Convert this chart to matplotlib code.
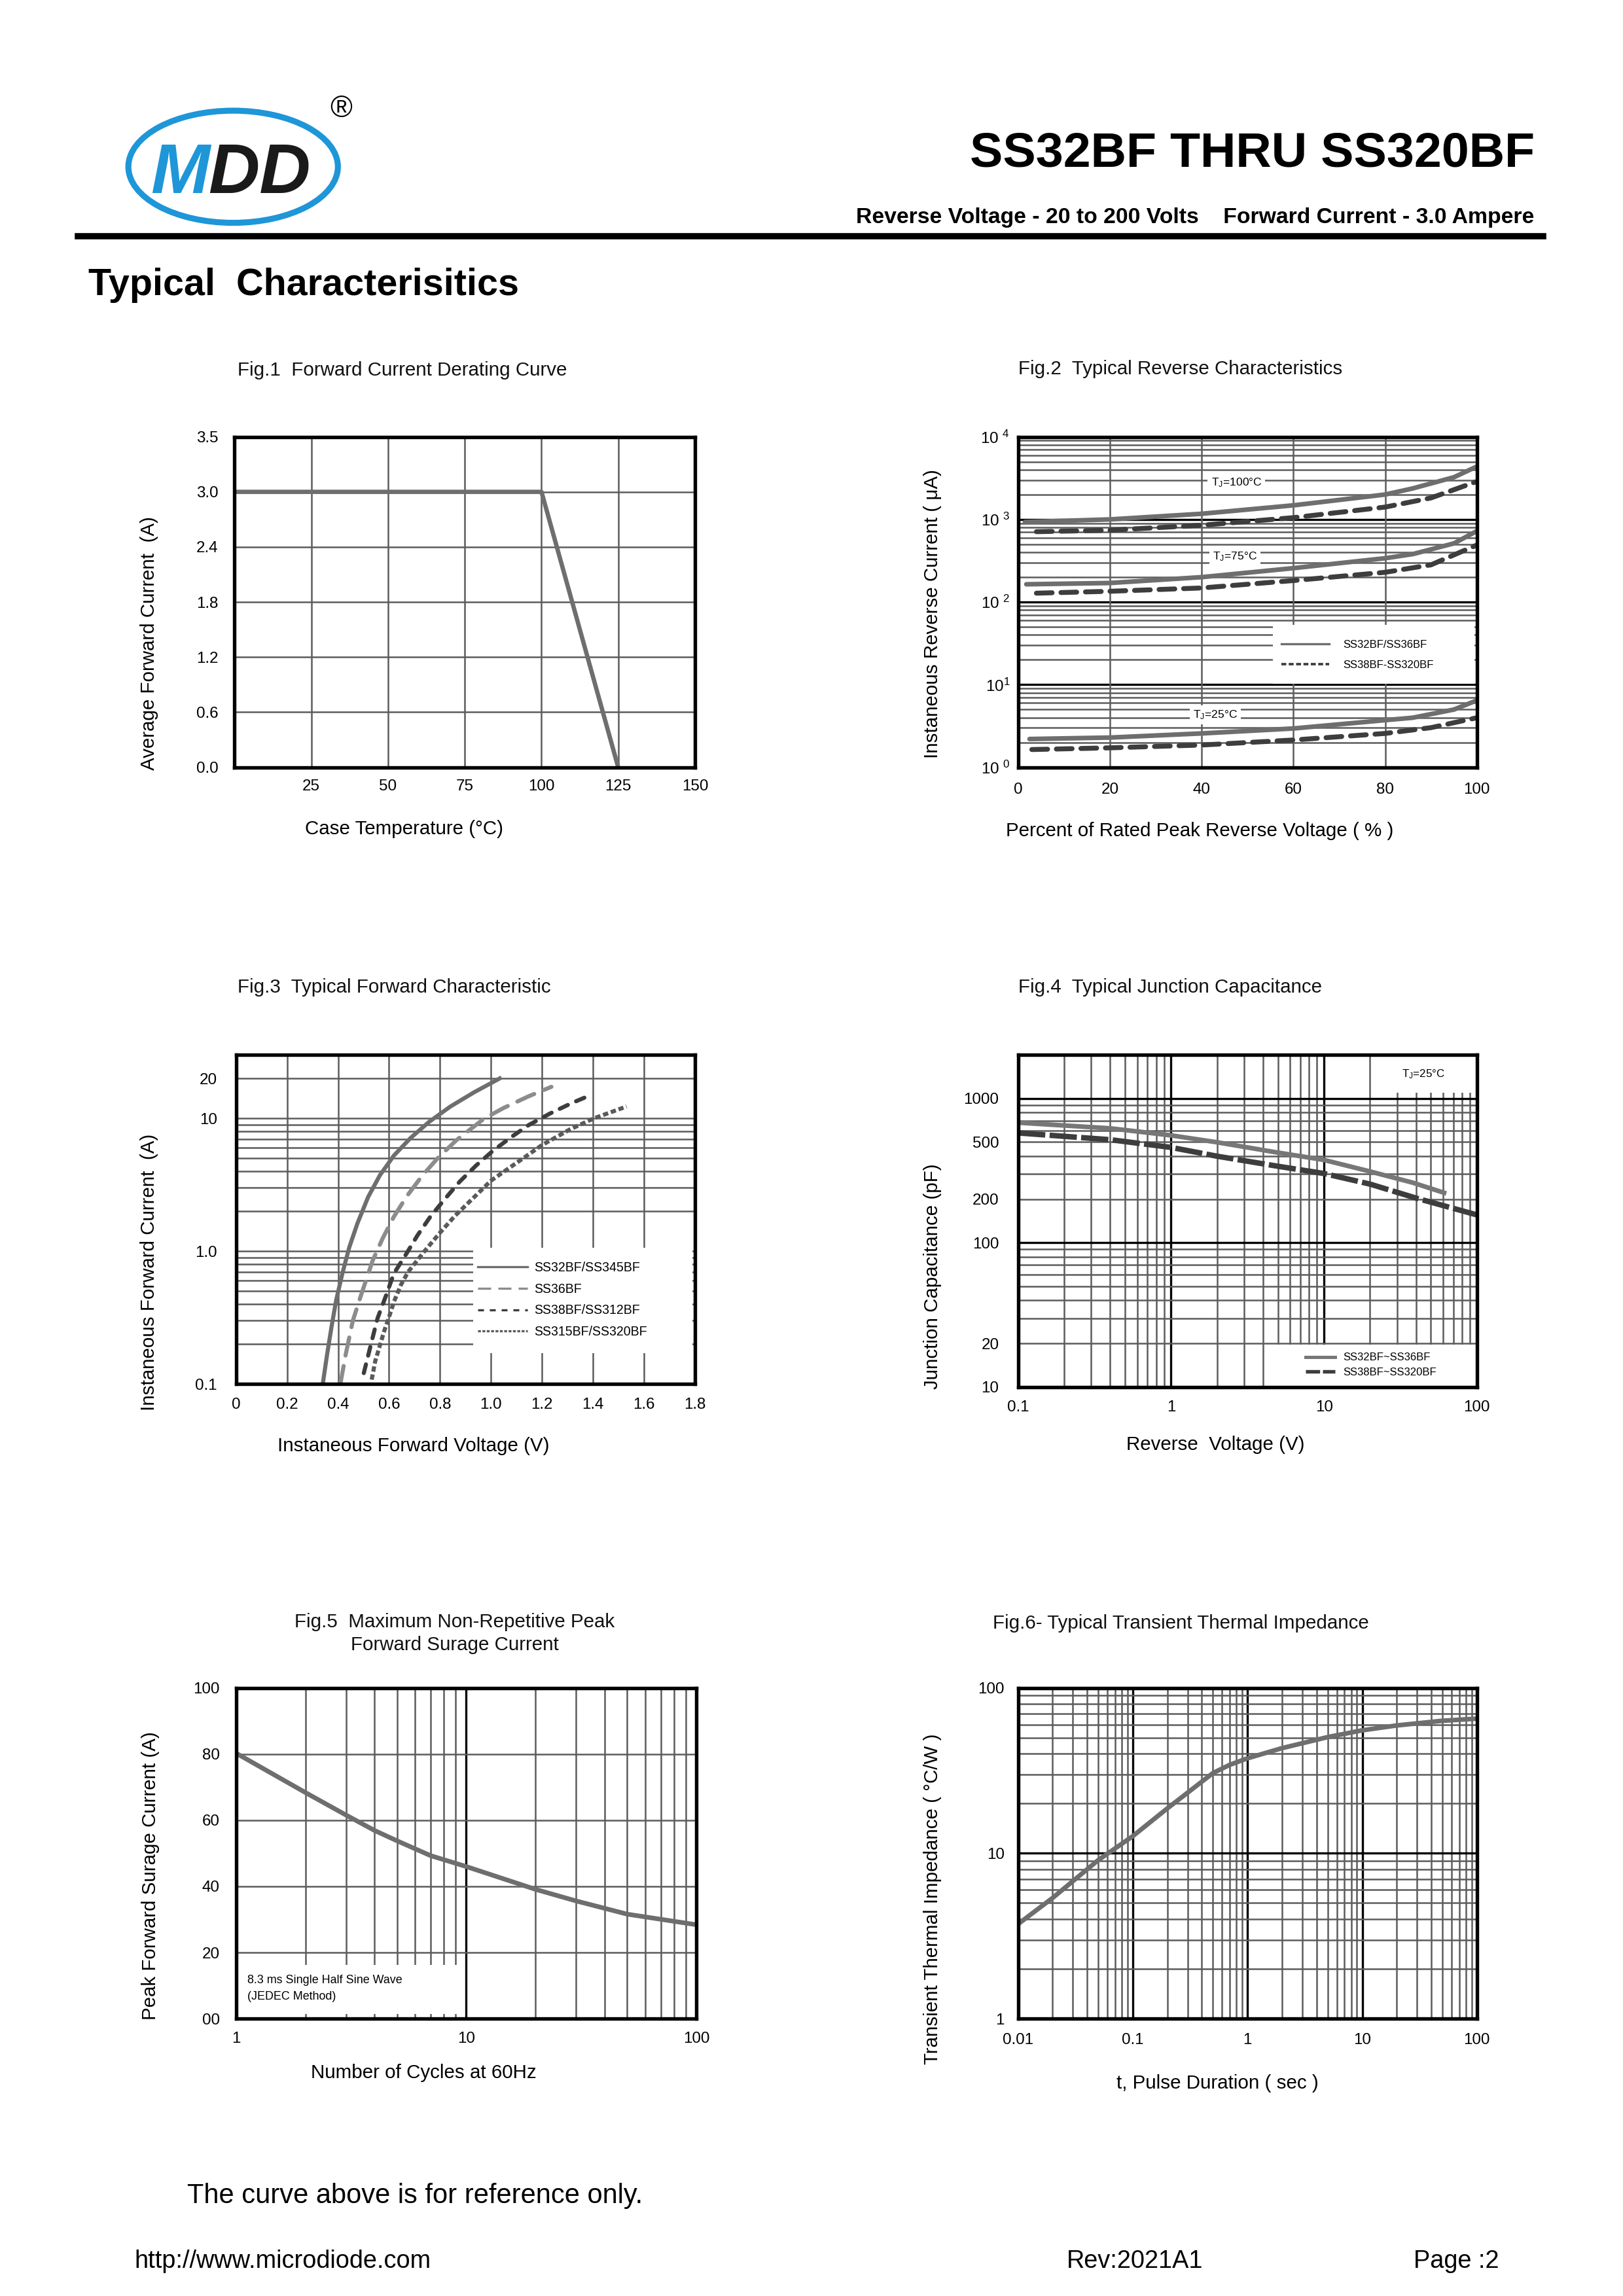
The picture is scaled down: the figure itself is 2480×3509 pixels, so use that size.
import numpy as np
import matplotlib
matplotlib.use("Agg")
import matplotlib.pyplot as plt
from matplotlib.patches import Rectangle, Ellipse
from matplotlib.lines import Line2D

plt.rcParams['font.family'] = ['Liberation Sans', 'DejaVu Sans']
plt.rcParams['mathtext.fontset'] = 'custom'
plt.rcParams['mathtext.rm'] = 'Liberation Sans'
plt.rcParams['mathtext.it'] = 'Liberation Sans:italic'
plt.rcParams['mathtext.default'] = 'regular'

# ---------------- data ----------------
# Fig.1 forward current derating
f1_temp = [0, 100, 125]
f1_amp = [3.0, 3.0, 0.0]
f1_xticks = [0, 25, 50, 75, 100, 125, 150]
f1_xlabels = ['', '25', '50', '75', '100', '125', '150']
f1_yticks = [0, 0.6, 1.2, 1.8, 2.4, 3.0, 3.6]
f1_ylabels = ['0.0', '0.6', '1.2', '1.8', '2.4', '3.0', '3.5']

# Fig.2 reverse characteristics (x: % of rated voltage, y: uA)
f2_x100_s = [1.5, 20, 40, 60, 80, 86, 95, 100]
f2_y100_s = [930, 1000, 1170, 1480, 2000, 2370, 3240, 4370]
f2_x100_d = [4, 20, 40, 60, 80, 90, 100]
f2_y100_d = [710, 740, 850, 1050, 1410, 1820, 2880]
f2_x75_s = [1.8, 20, 40, 60, 80, 86, 95, 100]
f2_y75_s = [164, 170, 200, 257, 339, 380, 513, 724]
f2_x75_d = [4, 20, 40, 60, 80, 90, 100]
f2_y75_d = [128, 135, 148, 182, 229, 282, 490]
f2_x25_s = [2.5, 20, 40, 60, 80, 86, 95, 100]
f2_y25_s = [2.2, 2.29, 2.57, 2.95, 3.72, 3.98, 5.0, 6.46]
f2_x25_d = [3, 20, 40, 60, 80, 90, 100]
f2_y25_d = [1.64, 1.72, 1.86, 2.14, 2.57, 3.02, 3.98]
f2_xticks = [0, 20, 40, 60, 80, 100]
f2_yticks = [1, 10, 100, 1000, 10000]
f2_ylabels = ['10 $^{0}$', '10$^{1}$', '10 $^{2}$', '10 $^{3}$', '10 $^{4}$']
f2_legend = ['SS32BF/SS36BF', 'SS38BF-SS320BF']

# Fig.3 forward characteristic (V, A)
f3_v_a = [0.340, 0.357, 0.375, 0.393, 0.417, 0.444, 0.476, 0.518, 0.564, 0.619,
          0.684, 0.758, 0.841, 0.933, 1.034]
f3_i_a = [0.1, 0.167, 0.274, 0.431, 0.68, 1.07, 1.62, 2.56, 3.73, 5.25,
          7.11, 9.45, 12.3, 15.7, 20.0]
f3_v_b = [0.409, 0.43, 0.458, 0.49, 0.536, 0.575, 0.619, 0.67, 0.73, 0.79,
          0.864, 0.93, 0.974, 1.05, 1.145, 1.237]
f3_i_b = [0.1, 0.167, 0.30, 0.466, 0.853, 1.25, 1.82, 2.6, 3.7, 5.0,
          6.85, 8.6, 10, 12.0, 14.6, 17.3]
f3_v_c = [0.501, 0.532, 0.555, 0.587, 0.619, 0.665, 0.712, 0.762, 0.818, 0.877,
          0.942, 1.006, 1.08, 1.149, 1.232, 1.315, 1.398]
f3_i_c = [0.121, 0.21, 0.313, 0.457, 0.68, 0.937, 1.32, 1.82, 2.46, 3.34,
          4.43, 5.67, 7.25, 8.94, 10.9, 13.0, 15.2]
f3_v_d = [0.532, 0.546, 0.564, 0.582, 0.60, 0.62, 0.647, 0.675, 0.712, 0.739, 0.8,
          0.859, 0.951, 1.0, 1.08, 1.154, 1.2, 1.31, 1.403, 1.532]
f3_i_d = [0.108, 0.149, 0.195, 0.254, 0.32, 0.42, 0.56, 0.70, 0.86, 1.0, 1.38,
          1.85, 2.75, 3.4, 4.35, 5.46, 6.3, 8.27, 10.0, 12.3]
f3_xticks = [0, 0.2, 0.4, 0.6, 0.8, 1.0, 1.2, 1.4, 1.6, 1.8]
f3_xlabels = ['0', '0.2', '0.4', '0.6', '0.8', '1.0', '1.2', '1.4', '1.6', '1.8']
f3_yticks = [0.1, 1, 10, 20]
f3_ylabels = ['0.1', '1.0', '10', '20']
f3_legend = ['SS32BF/SS345BF', 'SS36BF', 'SS38BF/SS312BF', 'SS315BF/SS320BF']

# Fig.4 junction capacitance (V, pF)
f4_v_a = [0.1, 0.4, 1, 2, 4.9, 10, 20, 38, 61]
f4_c_a = [680, 621, 555, 497, 423, 375, 312, 261, 222]
f4_v_b = [0.1, 0.4, 1, 2, 5, 10, 20, 40, 100]
f4_c_b = [577, 518, 458, 398, 339, 302, 255, 204, 156]
f4_xticks = [0.1, 1, 10, 100]
f4_xlabels = ['0.1', '1', '10', '100']
f4_yticks = [10, 20, 100, 200, 500, 1000]
f4_ylabels = ['10', '20', '100', '200', '500', '1000']
f4_legend = ['SS32BF~SS36BF', 'SS38BF~SS320BF']

# Fig.5 surge current (cycles, A)
f5_n = [1, 2, 3, 4, 5, 7, 10, 20, 30, 50, 100]
f5_a = [80.3, 68.4, 61.6, 56.9, 53.8, 49.3, 46.0, 39.1, 35.6, 31.6, 28.4]
f5_xticks = [1, 10, 100]
f5_xlabels = ['1', '10', '100']
f5_yticks = [0, 20, 40, 60, 80, 100]
f5_ylabels = ['00', '20', '40', '60', '80', '100']

# Fig.6 transient thermal impedance (s, C/W)
f6_t = [0.0103, 0.02, 0.05, 0.1, 0.2, 0.5, 0.7, 1, 2, 5, 10, 20, 50, 100]
f6_z = [3.79, 5.37, 9.1, 12.7, 18.7, 30.6, 34.3, 37.6, 43.3, 50.5, 55.5, 59.4, 63.4, 65.3]
f6_xticks = [0.01, 0.1, 1, 10, 100]
f6_xlabels = ['0.01', '0.1', '1', '10', '100']
f6_yticks = [1, 10, 100]
f6_ylabels = ['1', '10', '100']

# ---------------- style ----------------
GRID = '#5c5c5c'
CURVE = '#6e6e6e'
DARK = '#3d3d3d'
LIGHT = '#8c8c8c'
TICK_FS = 5.8
LABEL_FS = 7.1
TITLE_FS = 7.1

fig = plt.figure(figsize=(2480 / 300, 3509 / 300), dpi=300)


def fx(x):
    return x / 1100


def fy(y):
    return 1 - y / 1556


def make_axes(l, r, t, b):
    ax = fig.add_axes([fx(l), fy(b), fx(r) - fx(l), fy(t) - fy(b)])
    for s in ax.spines.values():
        s.set_linewidth(1.3)
        s.set_zorder(5)
    return ax


def finish(ax, xpad, ypad):
    ax.minorticks_off()
    ax.tick_params(which='both', length=0, labelsize=TICK_FS)
    ax.tick_params(axis='x', pad=xpad)
    ax.tick_params(axis='y', pad=ypad)


def log_lines(lo, hi):
    majors, minors = [], []
    for d in range(int(np.floor(np.log10(lo))), int(np.ceil(np.log10(hi))) + 1):
        for k in range(1, 10):
            v = k * 10.0 ** d
            if lo * 1.0001 < v < hi * 0.9999:
                (majors if k == 1 else minors).append(v)
    return majors, minors


def vlines(ax, vals, color=GRID, lw=0.6):
    for v in vals:
        ax.axvline(v, color=color, lw=lw, zorder=1)


def hlines(ax, vals, color=GRID, lw=0.6):
    for v in vals:
        ax.axhline(v, color=color, lw=lw, zorder=1)


def blank(ax, x, y, w, h):
    ax.add_patch(Rectangle((x, y), w, h, transform=ax.transAxes,
                           fc='white', ec='none', zorder=1.5))


def labels(title_xy, title, xl_xy, xl, yl_xy, yl, ha='left'):
    fig.text(fx(title_xy[0]), fy(title_xy[1]), title, fontsize=TITLE_FS,
             ha=ha, va='center', color='#111111', linespacing=1.3)
    fig.text(fx(xl_xy[0]), fy(xl_xy[1]), xl, fontsize=LABEL_FS, ha='center', va='center')
    fig.text(fx(yl_xy[0]), fy(yl_xy[1]), yl, fontsize=LABEL_FS, ha='center', va='center',
             rotation=90)


# ---------------- header ----------------
fig.add_artist(Ellipse((fx(158), fy(113)), 142 / 1100, 76 / 1556, transform=fig.transFigure,
                       fill=False, ec='#1e96d8', lw=2.2))
fig.text(fx(142), fy(131), 'M', fontsize=26, fontweight='bold', fontstyle='italic',
         color='#1e96d8', ha='right', va='baseline')
fig.text(fx(141), fy(131), 'DD', fontsize=26, fontweight='bold', fontstyle='italic',
         color='#1a1a1a', ha='left', va='baseline')
fig.text(fx(231), fy(74), '®', fontsize=11, ha='center', va='center')
fig.text(fx(1040), fy(113), 'SS32BF THRU SS320BF', fontsize=18.1, fontweight='bold',
         ha='right', va='baseline')
fig.text(fx(1040), fy(151), 'Reverse Voltage - 20 to 200 Volts    Forward Current - 3.0 Ampere',
         fontsize=8.1, fontweight='bold', ha='right', va='baseline')
fig.add_artist(Line2D([fx(53), fx(1046)], [fy(160), fy(160)], transform=fig.transFigure,
                      color='black', lw=2.3))
fig.text(fx(60), fy(200), 'Typical  Characterisitics', fontsize=13.8, fontweight='bold',
         ha='left', va='baseline')

# ---------------- Fig.1 ----------------
ax = make_axes(159, 471, 296, 520)
ax.set_xlim(0, 150)
ax.set_ylim(0, 3.6)
vlines(ax, f1_xticks[1:-1])
hlines(ax, f1_yticks[1:-1])
ax.plot(f1_temp, f1_amp, color=CURVE, lw=1.6, zorder=3)
ax.set_xticks(f1_xticks, f1_xlabels)
ax.set_yticks(f1_yticks, f1_ylabels)
finish(ax, 4.5, 6)
labels((161, 251), 'Fig.1  Forward Current Derating Curve',
       (274, 562), 'Case Temperature (°C)',
       (101, 436), 'Average Forward Current  (A)')

# ---------------- Fig.2 ----------------
ax = make_axes(690, 1001, 296, 520)
ax.set_yscale('log')
ax.set_xlim(0, 100)
ax.set_ylim(1, 10000)
maj, mnr = log_lines(1, 10000)
hlines(ax, mnr)
hlines(ax, maj, color='black', lw=0.8)
vlines(ax, f2_xticks[1:-1])
blank(ax, 0.555, 0.253, 0.44, 0.178)
dash = (0, (3.2, 1.8))
for xs, ys, xd, yd in [(f2_x100_s, f2_y100_s, f2_x100_d, f2_y100_d),
                       (f2_x75_s, f2_y75_s, f2_x75_d, f2_y75_d),
                       (f2_x25_s, f2_y25_s, f2_x25_d, f2_y25_d)]:
    ax.plot(xs, ys, color=CURVE, lw=1.7, zorder=3, solid_capstyle='round')
    ax.plot(xd, yd, color=DARK, lw=1.8, ls=dash, zorder=3, dash_capstyle='round')
for x, y, s in [(47.6, 2800, 'T$_{J}$=100°C'), (47.3, 355, 'T$_{J}$=75°C'),
                (43, 4.3, 'T$_{J}$=25°C')]:
    ax.text(x, y, s, fontsize=4.2, ha='center', va='center', zorder=4,
            bbox=dict(fc='white', ec='none', pad=1.2))
h = [Line2D([], [], color=CURVE, lw=0.8),
     Line2D([], [], color=DARK, lw=0.9, ls=(0, (2, 1)))]
ax.legend(h, f2_legend, loc='center left', bbox_to_anchor=(0.574, 0.34), frameon=False,
          fontsize=4.0, handlelength=4.4, handletextpad=1.25, labelspacing=1.0,
          borderpad=0, borderaxespad=0)
ax.set_xticks(f2_xticks, [str(v) for v in f2_xticks])
ax.set_yticks(f2_yticks, f2_ylabels)
finish(ax, 5.5, 3)
labels((690, 250), 'Fig.2  Typical Reverse Characteristics',
       (813, 563), 'Percent of Rated Peak Reverse Voltage ( % )',
       (632, 416), 'Instaneous Reverse Current ( μA)')

# ---------------- Fig.3 ----------------
ax = make_axes(160, 471, 715, 938)
ax.set_yscale('log')
ax.set_xlim(0, 1.8)
ax.set_ylim(0.1, 30)
maj, mnr = log_lines(0.1, 30)
hlines(ax, maj + mnr)
vlines(ax, f3_xticks[1:-1])
blank(ax, 0.516, 0.095, 0.478, 0.32)
ax.plot(f3_v_a, f3_i_a, color=CURVE, lw=1.5, zorder=3)
ax.plot(f3_v_b, f3_i_b, color=LIGHT, lw=1.5, ls=(0, (4.5, 2.6)), zorder=3,
        dash_capstyle='round')
ax.plot(f3_v_c, f3_i_c, color=DARK, lw=1.5, ls=(0, (2.2, 2.2)), zorder=3,
        dash_capstyle='round')
ax.plot(f3_v_d, f3_i_d, color='#5a5a5a', lw=1.5, ls=(0, (1.3, 0.7)), zorder=3)
h = [Line2D([], [], color=CURVE, lw=0.8),
     Line2D([], [], color=LIGHT, lw=0.8, ls=(0, (6, 3.3))),
     Line2D([], [], color=DARK, lw=0.8, ls=(0, (2.7, 2.7))),
     Line2D([], [], color='#5a5a5a', lw=0.8, ls=(0, (1.3, 0.7)))]
ax.legend(h, f3_legend, loc='center left', bbox_to_anchor=(0.526, 0.256), frameon=False,
          fontsize=4.7, handlelength=3.9, handletextpad=0.5, labelspacing=0.7,
          borderpad=0, borderaxespad=0)
ax.set_xticks(f3_xticks, f3_xlabels)
ax.set_yticks(f3_yticks, f3_ylabels)
finish(ax, 4.9, 7)
labels((161, 669), 'Fig.3  Typical Forward Characteristic',
       (280, 980), 'Instaneous Forward Voltage (V)',
       (101, 862), 'Instaneous Forward Current  (A)')

# ---------------- Fig.4 ----------------
ax = make_axes(690, 1001, 715, 940)
ax.set_xscale('log')
ax.set_yscale('log')
ax.set_xlim(0.1, 100)
ax.set_ylim(10, 2000)
maj, mnr = log_lines(0.1, 100)
vlines(ax, mnr)
vlines(ax, maj, color='black', lw=0.8)
maj, mnr = log_lines(10, 2000)
hlines(ax, mnr)
hlines(ax, maj, color='black', lw=0.8)
blank(ax, 0.79, 0.886, 0.205, 0.11)
blank(ax, 0.566, 0.004, 0.43, 0.123)
ax.plot(f4_v_a, f4_c_a, color='#777777', lw=1.7, zorder=3)
ax.plot(f4_v_b, f4_c_b, color=DARK, lw=2.0, ls=(0, (5, 0.8)), zorder=3)
ax.text(0.884, 0.943, 'T$_{J}$=25°C', transform=ax.transAxes, fontsize=4.1,
        ha='center', va='center', zorder=4)
h = [Line2D([], [], color='#777777', lw=1.2),
     Line2D([], [], color=DARK, lw=1.3, ls=(0, (4, 0.8)))]
ax.legend(h, f4_legend, loc='center left', bbox_to_anchor=(0.626, 0.0665), frameon=False,
          fontsize=4.0, handlelength=2.7, handletextpad=0.75, labelspacing=0.45,
          borderpad=0, borderaxespad=0)
ax.set_xticks(f4_xticks, f4_xlabels)
ax.set_yticks(f4_yticks, f4_ylabels)
finish(ax, 4.9, 7)
labels((690, 669), 'Fig.4  Typical Junction Capacitance',
       (824, 979), 'Reverse  Voltage (V)',
       (632, 865), 'Junction Capacitance (pF)')

# ---------------- Fig.5 ----------------
ax = make_axes(160, 472, 1144, 1368)
ax.set_xscale('log')
ax.set_xlim(1, 100)
ax.set_ylim(0, 100)
maj, mnr = log_lines(1, 100)
vlines(ax, mnr)
vlines(ax, maj, color='black', lw=0.8)
hlines(ax, f5_yticks[1:-1])
blank(ax, 0.0, 0.013, 0.493, 0.149)
ax.plot(f5_n, f5_a, color=CURVE, lw=1.7, zorder=3)
ax.text(0.024, 0.116, '8.3 ms Single Half Sine Wave', transform=ax.transAxes,
        fontsize=4.3, ha='left', va='center', zorder=4)
ax.text(0.024, 0.067, '(JEDEC Method)', transform=ax.transAxes,
        fontsize=4.3, ha='left', va='center', zorder=4)
ax.set_xticks(f5_xticks, f5_xlabels)
ax.set_yticks(f5_yticks, f5_ylabels)
finish(ax, 4.9, 6)
labels((308, 1107), 'Fig.5  Maximum Non-Repetitive Peak\nForward Surage Current',
       (287, 1405), 'Number of Cycles at 60Hz',
       (102, 1271), 'Peak Forward Surage Current (A)', ha='center')

# ---------------- Fig.6 ----------------
ax = make_axes(690, 1001, 1144, 1368)
ax.set_xscale('log')
ax.set_yscale('log')
ax.set_xlim(0.01, 100)
ax.set_ylim(1, 100)
maj, mnr = log_lines(0.01, 100)
vlines(ax, mnr)
vlines(ax, maj, color='black', lw=0.8)
maj, mnr = log_lines(1, 100)
hlines(ax, mnr)
hlines(ax, maj, color='black', lw=0.8)
ax.plot(f6_t, f6_z, color=CURVE, lw=1.7, zorder=3)
ax.set_xticks(f6_xticks, f6_xlabels)
ax.set_yticks(f6_yticks, f6_ylabels)
finish(ax, 5.3, 5)
labels((673, 1100), 'Fig.6- Typical Transient Thermal Impedance',
       (825, 1412), 't, Pulse Duration ( sec )',
       (632, 1287), 'Transient Thermal Impedance ( °C/W )')

# ---------------- footer ----------------
fig.text(fx(127), fy(1493), 'The curve above is for reference only.', fontsize=10.0,
         ha='left', va='baseline')
fig.text(fx(91), fy(1537), 'http://www.microdiode.com', fontsize=9.1, ha='left', va='baseline')
fig.text(fx(723), fy(1537), 'Rev:2021A1', fontsize=9.1, ha='left', va='baseline')
fig.text(fx(958), fy(1537), 'Page :2', fontsize=9.1, ha='left', va='baseline')

fig.savefig('out.png', dpi=300)
